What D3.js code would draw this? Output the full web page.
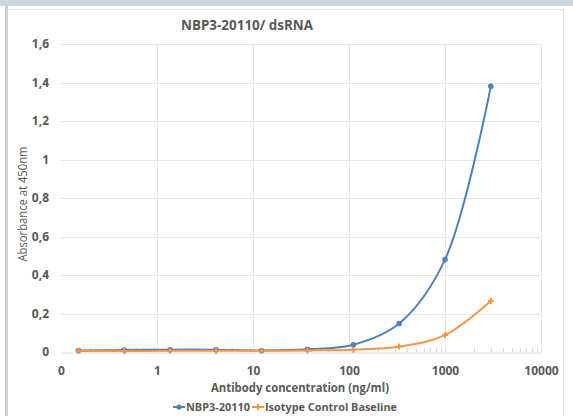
<!DOCTYPE html>
<html><head><meta charset="utf-8">
<script src="https://cdn.jsdelivr.net/npm/d3@7"></script>
<style>
html,body{margin:0;padding:0;background:#fff;}
svg{display:block;}
text{font-family:"Open Sans","Liberation Sans",sans-serif;}
</style></head>
<body>
<script>
const concentrations = [0.152, 0.457, 1.37, 4.12, 12.3, 37, 111, 333, 1000, 3000];
const nbpValues = [0.008, 0.010, 0.012, 0.012, 0.008, 0.014, 0.038, 0.148, 0.480, 1.380];
const isotypeValues = [0.005, 0.005, 0.006, 0.006, 0.006, 0.008, 0.012, 0.028, 0.088, 0.265];
const xTickValues = [0.1, 1, 10, 100, 1000, 10000];
const xTickLabels = ["0", "1", "10", "100", "1000", "10000"];
const yTickValues = [0, 0.2, 0.4, 0.6, 0.8, 1, 1.2, 1.4, 1.6];
const yTickLabels = ["0", "0,2", "0,4", "0,6", "0,8", "1", "1,2", "1,4", "1,6"];
const seriesNames = ["NBP3-20110", "Isotype Control Baseline"];
const seriesColors = ["#4f81bd", "#f79646"];

const W = 573, H = 416;
const svg = d3.select("body").append("svg").attr("width", W).attr("height", H);

// frame
svg.append("rect").attr("x",0).attr("y",0).attr("width",W).attr("height",6).attr("fill","#ccd3e2");
svg.append("rect").attr("x",5).attr("y",6).attr("width",3).attr("height",H-6).attr("fill","#d0d0d0");
svg.append("line").attr("x1",563.5).attr("x2",563.5).attr("y1",9).attr("y2",H).attr("stroke","#e4e4e4");
svg.append("line").attr("x1",8).attr("x2",563.5).attr("y1",9.5).attr("y2",9.5).attr("stroke","#e4e4e4");

const x = d3.scaleLog().domain([0.1, 10000]).range([61, 541]);
const y = d3.scaleLinear().domain([0, 1.6]).range([352, 44]);

// gridlines
const g = svg.append("g");
g.selectAll(".hg").data(yTickValues.slice(1)).join("line")
  .attr("x1", 61).attr("x2", 541)
  .attr("y1", d => Math.round(y(d))+0.5).attr("y2", d => Math.round(y(d))+0.5)
  .attr("stroke", "#e6e6e6");
g.selectAll(".vg").data(xTickValues.slice(1)).join("line")
  .attr("x1", d => Math.round(x(d))+0.5).attr("x2", d => Math.round(x(d))+0.5)
  .attr("y1", 44).attr("y2", 352)
  .attr("stroke", "#e6e6e6");

// minor ticks
const minor = [];
for (let dec = 0.1; dec < 10000; dec *= 10) for (let k = 2; k <= 9; k++) minor.push(dec * k);
g.selectAll(".mt").data(minor).join("line")
  .attr("x1", d => Math.round(x(d))+0.5).attr("x2", d => Math.round(x(d))+0.5)
  .attr("y1", 348).attr("y2", 352)
  .attr("stroke", "#d9d9d9");

// x axis
const xAxis = svg.append("g").attr("transform", "translate(0,352.5)")
  .call(d3.axisBottom(x).tickValues(xTickValues).tickFormat((d,i) => xTickLabels[i]).tickSize(0).tickPadding(14));
xAxis.select(".domain").attr("stroke", "#d9d9d9");
xAxis.selectAll("text").attr("font-size", 12).attr("font-weight", "bold").attr("fill", "#595959");

const yAxis = svg.append("g").attr("transform", "translate(61,0)")
  .call(d3.axisLeft(y).tickValues(yTickValues).tickFormat((d,i) => yTickLabels[i]).tickSize(0).tickPadding(12));
yAxis.select(".domain").remove();
yAxis.selectAll("text").attr("font-size", 12).attr("font-weight", "bold").attr("fill", "#595959");

// series
const series = [nbpValues, isotypeValues];
const line = d3.line().x((d,i) => x(concentrations[i])).y(d => y(d)).curve(d3.curveCatmullRom.alpha(0.5));
series.forEach((vals, si) => {
  svg.append("path").datum(vals).attr("d", line).attr("fill", "none")
    .attr("stroke", seriesColors[si]).attr("stroke-width", 2);
});
// markers
svg.selectAll(".m0").data(nbpValues).join("circle")
  .attr("cx", (d,i) => x(concentrations[i])).attr("cy", d => y(d)).attr("r", 2.8)
  .attr("fill", seriesColors[0]);
svg.selectAll(".m1").data(isotypeValues).join("path")
  .attr("transform", (d,i) => `translate(${x(concentrations[i])},${y(d)})`)
  .attr("d", "M-3,0H3M0,-3V3").attr("stroke", seriesColors[1]).attr("stroke-width", 2);

// title
svg.append("text").attr("x", 247).attr("y", 30).attr("text-anchor", "middle")
  .attr("font-size", 15).attr("font-weight", "bold").attr("fill", "#595959")
  .attr("textLength", 132).attr("lengthAdjust","spacingAndGlyphs")
  .text("NBP3-20110/ dsRNA");

// axis titles
svg.append("text").attr("x", 300).attr("y", 392).attr("text-anchor", "middle")
  .attr("font-size", 12).attr("font-weight", "bold").attr("fill", "#595959")
  .attr("textLength", 178).attr("lengthAdjust","spacingAndGlyphs")
  .text("Antibody concentration (ng/ml)");
svg.append("text").attr("transform", "translate(27,204) rotate(-90)").attr("text-anchor", "middle")
  .attr("font-size", 12).attr("fill", "#595959")
  .attr("textLength", 115).attr("lengthAdjust","spacingAndGlyphs")
  .text("Absorbance at 450nm");

// legend
const lg = svg.append("g");
const legY = 407;
lg.append("line").attr("x1",173).attr("x2",185).attr("y1",legY).attr("y2",legY).attr("stroke",seriesColors[0]).attr("stroke-width",2);
lg.append("circle").attr("cx",179).attr("cy",legY).attr("r",2.6).attr("fill",seriesColors[0]);
lg.append("text").attr("x",186).attr("y",legY+4).attr("font-size",11).attr("font-weight","bold").attr("fill","#595959")
  .attr("textLength",64).attr("lengthAdjust","spacingAndGlyphs").text(seriesNames[0]);
lg.append("line").attr("x1",252).attr("x2",264).attr("y1",legY).attr("y2",legY).attr("stroke",seriesColors[1]).attr("stroke-width",2);
lg.append("path").attr("transform",`translate(258,${legY})`).attr("d","M-3,0H3M0,-3V3").attr("stroke",seriesColors[1]).attr("stroke-width",2);
lg.append("text").attr("x",265).attr("y",legY+4).attr("font-size",11).attr("font-weight","bold").attr("fill","#595959")
  .attr("textLength",132).attr("lengthAdjust","spacingAndGlyphs").text(seriesNames[1]);
</script>
</body></html>
